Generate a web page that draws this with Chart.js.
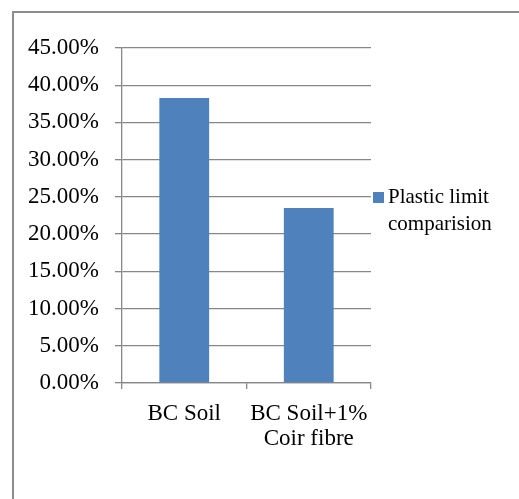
<!DOCTYPE html>
<html>
<head>
<meta charset="utf-8">
<script src="https://cdn.jsdelivr.net/npm/chart.js@4/dist/chart.umd.min.js"></script>
<style>
  html, body { margin: 0; padding: 0; background: #ffffff; }
  #wrap { position: relative; width: 519px; height: 499px; overflow: hidden; }
  #frame { position: absolute; left: 12px; top: 11px; width: 700px; height: 700px;
           border-left: 2px solid #8c8c8c; border-top: 2px solid #8c8c8c; }
  canvas { position: absolute; left: 0; top: 0; }
</style>
</head>
<body>
<div id="wrap">
  <div id="frame"></div>
  <canvas id="c" width="519" height="499"></canvas>
</div>
<script>
// Plastic limit of black cotton soil, with and without coir fibre (%)
const categories = ['BC Soil', ['BC Soil+1%', 'Coir fibre']];
const seriesName = 'Plastic limit comparision';
const plasticLimit = [38.3, 23.5];
const yTicks = [0, 5, 10, 15, 20, 25, 30, 35, 40, 45];

const barColor = '#4F81BD';
const axisColor = '#878787';
const serif = "'Liberation Serif', 'Times New Roman', serif";

// Legend drawn at the right of the plot, wrapped over two lines
const sideLegend = {
  id: 'sideLegend',
  afterDraw(chart) {
    const ctx = chart.ctx;
    const ds = chart.data.datasets[0];
    ctx.save();
    ctx.font = '21px ' + serif;
    ctx.fillStyle = '#000';
    ctx.textBaseline = 'alphabetic';
    const words = ds.label.split(' ');
    const lines = [];
    let cur = '';
    words.forEach(w => {
      const t = cur ? cur + ' ' + w : w;
      if (ctx.measureText(t).width > 118 && cur) { lines.push(cur); cur = w; }
      else cur = t;
    });
    if (cur) lines.push(cur);
    const x0 = chart.chartArea.right + 2;
    const baseY = 203;
    ctx.fillStyle = ds.backgroundColor;
    ctx.fillRect(x0, baseY - 11, 11, 11);
    ctx.fillStyle = '#000';
    lines.forEach((l, i) => ctx.fillText(l, x0 + 15, baseY + i * 26.5));
    ctx.restore();
  }
};

new Chart(document.getElementById('c'), {
  type: 'bar',
  data: {
    labels: categories,
    datasets: [{
      label: seriesName,
      data: plasticLimit,
      backgroundColor: barColor,
      borderWidth: 0,
      barPercentage: 0.4,
      categoryPercentage: 1.0
    }]
  },
  options: {
    responsive: false,
    devicePixelRatio: 1,
    animation: false,
    layout: { padding: { top: 48, right: 148, left: 0, bottom: 0 } },
    plugins: { legend: { display: false }, tooltip: { enabled: false } },
    scales: {
      x: {
        afterFit(s) { s.height = 116; },
        grid: { drawOnChartArea: false, drawTicks: true, tickLength: 6, color: axisColor, lineWidth: 1.3 },
        border: { display: true, color: axisColor, width: 1.3 },
        ticks: { color: '#000', padding: 12, maxRotation: 0, autoSkip: false,
                 font: { family: serif, size: 23, lineHeight: 1.09 } }
      },
      y: {
        min: 0, max: 45,
        afterFit(s) { s.width = 122; },
        afterBuildTicks(s) { s.ticks = yTicks.map(v => ({ value: v })); },
        grid: { color: axisColor, lineWidth: 1.3, tickLength: 7, drawTicks: true },
        border: { display: true, color: axisColor, width: 1.3 },
        ticks: { color: '#000', padding: 16,
                 font: { family: serif, size: 23 },
                 callback: v => v.toFixed(2) + '%' }
      }
    }
  },
  plugins: [sideLegend]
});
</script>
</body>
</html>
